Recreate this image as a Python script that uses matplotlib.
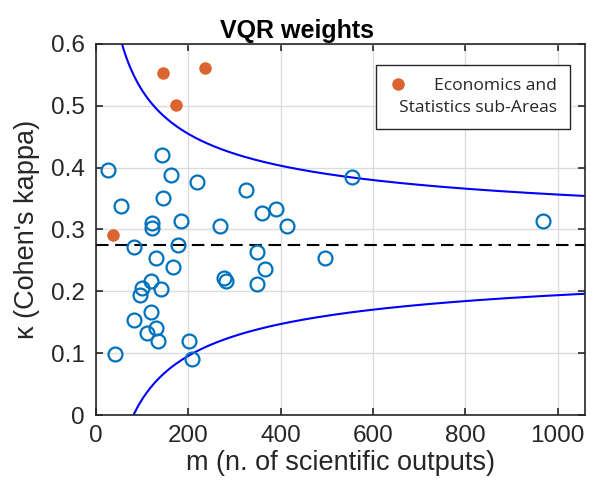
import matplotlib.pyplot as plt
from matplotlib.lines import Line2D
import numpy as np

plt.rcParams['font.family'] = ['Liberation Sans', 'DejaVu Sans']

# VQR sub-areas: number of scientific outputs and Cohen's kappa
m_all = [25, 143, 162, 218, 145, 54, 325, 360, 389, 122, 122, 183, 269, 413,
         82, 178, 129, 167, 349, 365, 277, 282, 349, 118, 100, 95, 140, 118,
         82, 129, 111, 134, 202, 207, 42, 555, 968, 496]
kappa_all = [0.396, 0.421, 0.388, 0.376, 0.351, 0.338, 0.363, 0.326, 0.333,
             0.310, 0.302, 0.313, 0.305, 0.305, 0.271, 0.275, 0.254, 0.240,
             0.263, 0.236, 0.221, 0.216, 0.211, 0.217, 0.205, 0.194, 0.203,
             0.166, 0.154, 0.141, 0.132, 0.119, 0.120, 0.090, 0.099, 0.385,
             0.314, 0.254]

# Economics and Statistics sub-Areas
m_econ = [146, 236, 174, 36]
kappa_econ = [0.553, 0.560, 0.501, 0.291]

# mean kappa and confidence band parameters
kappa_mean = 0.275
band_c = 2.58
band_shift = 7

m_line = np.linspace(1, 1100, 2000)
dev = band_c / np.sqrt(m_line + band_shift)

fig = plt.figure(figsize=(5.93, 4.86), dpi=100)
ax = fig.add_axes([0.162, 0.146, 0.825, 0.764])

tc = '#262626'
ax.grid(True, color='#dcdcdc', linewidth=1.0)
ax.set_axisbelow(True)

ax.plot(m_line, kappa_mean + dev, color='#0000ff', linewidth=1.5)
ax.plot(m_line, kappa_mean - dev, color='#0000ff', linewidth=1.5)
ax.axhline(kappa_mean, color='black', linestyle=(0, (6, 3.2)), linewidth=1.5)

ax.plot(m_all, kappa_all, 'o', markerfacecolor='none', markeredgecolor='#0072BD',
        markersize=10, markeredgewidth=1.6)
ax.plot(m_econ, kappa_econ, 'o', color='#D95319', markersize=9, alpha=0.9,
        markeredgewidth=0, label='Economics and\nStatistics sub-Areas')

ax.set_xlim(0, 1060)
ax.set_ylim(0, 0.6)
ax.set_xticks(np.arange(0, 1001, 200))
ax.set_yticks(np.arange(0, 0.61, 0.1))
ax.set_yticklabels(['0', '0.1', '0.2', '0.3', '0.4', '0.5', '0.6'])
ax.tick_params(direction='in', top=True, right=True, labelsize=17.5,
               colors=tc, length=5, width=1.2)
ax.tick_params(axis='y', pad=8)
ax.tick_params(axis='x', pad=7)
for s in ax.spines.values():
    s.set_color(tc)
    s.set_linewidth(1.2)

ax.set_title('VQR weights', fontsize=18, fontweight='bold', pad=4, x=0.411)
ax.set_xlabel('m (n. of scientific outputs)', fontsize=19.5, color=tc, labelpad=2)
ax.set_ylabel("κ (Cohen's kappa)", fontsize=19.5, color=tc, labelpad=8)

leg = ax.legend(loc='upper right', bbox_to_anchor=(0.968, 0.942), fancybox=False,
                edgecolor=tc, framealpha=1, handletextpad=-0.45, borderpad=0.75,
                prop={'family': ['Open Sans', 'DejaVu Sans'], 'size': 12.6},
                handlelength=1.0, borderaxespad=0)
leg.get_frame().set_linewidth(1.0)
for t in leg.get_texts():
    t.set_multialignment('right')
    t.set_linespacing(1.45)
    t.set_color(tc)
# put the legend dot beside the first line of text
for ln in leg.findobj(Line2D):
    ln.set_ydata(np.asarray(ln.get_ydata(), dtype=float) + 9.5)

fig.savefig('out.png', dpi=100)
